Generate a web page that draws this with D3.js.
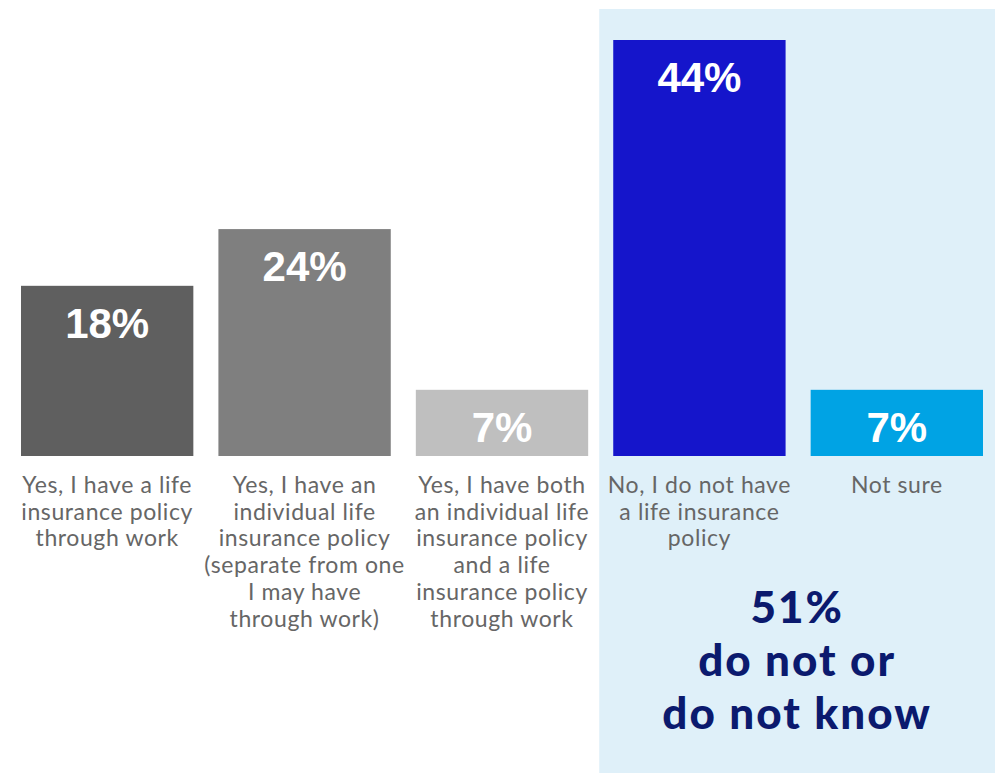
<!DOCTYPE html>
<html>
<head>
<meta charset="utf-8">
<script src="https://cdn.jsdelivr.net/npm/d3@7"></script>
<style>
  html, body { margin: 0; padding: 0; background: #ffffff; }
  svg { display: block; }
</style>
</head>
<body>
<svg id="chart" width="997" height="774"></svg>
<script>
// Survey responses: does the respondent have life insurance?
const categories = [
  ["Yes, I have a life", "insurance policy", "through work"],
  ["Yes, I have an", "individual life", "insurance policy", "(separate from one", "I may have", "through work)"],
  ["Yes, I have both", "an individual life", "insurance policy", "and a life", "insurance policy", "through work"],
  ["No, I do not have", "a life insurance", "policy"],
  ["Not sure"]
];
const values = [18, 24, 7, 44, 7];
const barColors = ["#5f5f5f", "#7f7f7f", "#bfbfbf", "#1515cb", "#00a3e4"];
const summaryLines = ["51%", "do not or", "do not know"];

const svg = d3.select("#chart");

const x = d3.scaleBand()
  .domain(d3.range(values.length))
  .range([21, 983])
  .paddingInner(0.127)
  .paddingOuter(0);

const y = d3.scaleLinear()
  .domain([0, 44])
  .range([456, 40]);

// Highlight panel behind the "no / not sure" group
const panelLeft = x(3) - 14;
svg.append("rect")
  .attr("x", panelLeft)
  .attr("y", 9)
  .attr("width", 995 - panelLeft)
  .attr("height", 764)
  .attr("fill", "#dff0f9");

// Bars
svg.selectAll("rect.bar")
  .data(values)
  .join("rect")
  .attr("class", "bar")
  .attr("x", (d, i) => x(i))
  .attr("y", d => y(d))
  .attr("width", x.bandwidth())
  .attr("height", d => y(0) - y(d))
  .attr("fill", (d, i) => barColors[i]);

// Value labels inside bars
svg.selectAll("text.value")
  .data(values)
  .join("text")
  .attr("class", "value")
  .attr("x", (d, i) => x(i) + x.bandwidth() / 2)
  .attr("y", d => y(d) + 52)
  .attr("text-anchor", "middle")
  .attr("font-family", "'Liberation Sans', Arial, sans-serif")
  .attr("font-weight", "bold")
  .attr("font-size", 42)
  .attr("fill", "#ffffff")
  .text(d => d + "%");

// Category labels below the bars
const labelGroups = svg.selectAll("text.cat")
  .data(categories)
  .join("text")
  .attr("class", "cat")
  .attr("text-anchor", "middle")
  .attr("font-family", "Lato, 'Open Sans', sans-serif")
  .attr("font-size", 23)
  .attr("letter-spacing", 0.6)
  .attr("fill", "#666666");

labelGroups.selectAll("tspan")
  .data((d, i) => d.map(line => ({ line, i })))
  .join("tspan")
  .attr("x", d => x(d.i) + x.bandwidth() / 2)
  .attr("y", (d, j) => 493 + j * 26.7)
  .text(d => d.line);

// Summary callout
const panelCenter = (panelLeft + 995) / 2;
svg.append("text")
  .attr("text-anchor", "middle")
  .attr("font-family", "Lato, sans-serif")
  .attr("font-weight", 900)
  .attr("font-size", 44)
  .attr("letter-spacing", 2)
  .attr("fill", "#0b1a6e")
  .selectAll("tspan")
  .data(summaryLines)
  .join("tspan")
  .attr("x", panelCenter)
  .attr("y", (d, j) => 623 + j * 53)
  .text(d => d);
</script>
</body>
</html>
